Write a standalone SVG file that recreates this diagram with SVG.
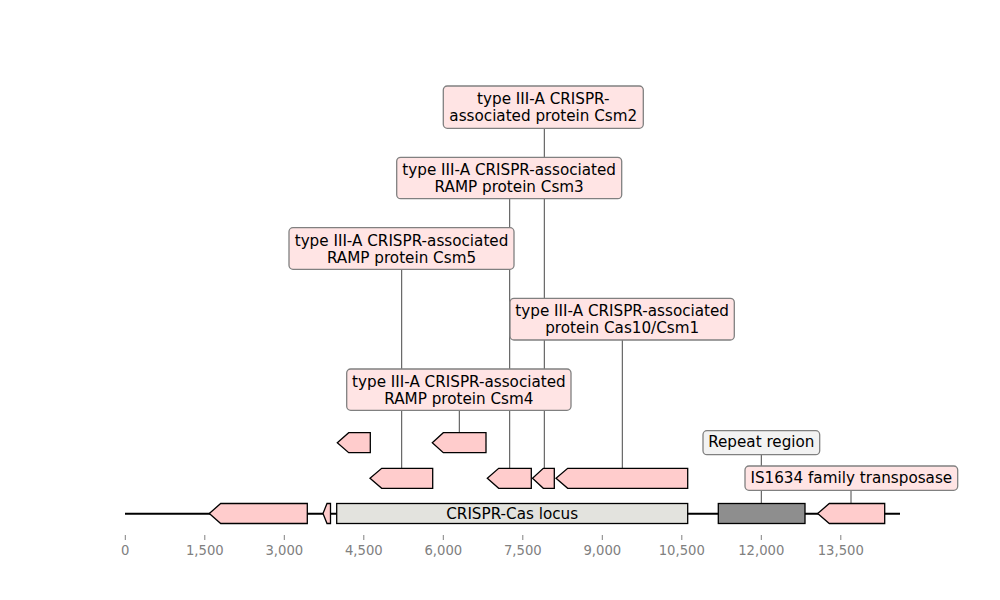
<svg xmlns="http://www.w3.org/2000/svg" width="1000" height="600" viewBox="0 0 1000 600">
<style>
.lbl{font-family:"DejaVu Sans",sans-serif;font-size:15.2px;fill:#000;text-anchor:middle}
.box{fill:#ffe4e4;stroke:#808080;stroke-width:1.3}
.boxg{fill:#f2f2f2;stroke:#808080;stroke-width:1.3}
.feat{fill:#ffcccc;stroke:#000;stroke-width:1.3;stroke-linejoin:miter}
.tick{stroke:#808080;stroke-width:1}
.tl{font-family:"DejaVu Sans",sans-serif;font-size:13.2px;fill:#808080;text-anchor:middle}
.conn{stroke:#333;stroke-width:0.9;fill:none}
</style>
<rect width="1000" height="600" fill="#fff"/>
<g id="axis">
<line class="tick" x1="125.3" y1="535" x2="125.3" y2="540"/><text class="tl" x="125.3" y="555">0</text>
<line class="tick" x1="204.8" y1="535" x2="204.8" y2="540"/><text class="tl" x="204.8" y="555">1,500</text>
<line class="tick" x1="284.3" y1="535" x2="284.3" y2="540"/><text class="tl" x="284.3" y="555">3,000</text>
<line class="tick" x1="363.8" y1="535" x2="363.8" y2="540"/><text class="tl" x="363.8" y="555">4,500</text>
<line class="tick" x1="443.3" y1="535" x2="443.3" y2="540"/><text class="tl" x="443.3" y="555">6,000</text>
<line class="tick" x1="522.8" y1="535" x2="522.8" y2="540"/><text class="tl" x="522.8" y="555">7,500</text>
<line class="tick" x1="602.3" y1="535" x2="602.3" y2="540"/><text class="tl" x="602.3" y="555">9,000</text>
<line class="tick" x1="681.8" y1="535" x2="681.8" y2="540"/><text class="tl" x="681.8" y="555">10,500</text>
<line class="tick" x1="761.3" y1="535" x2="761.3" y2="540"/><text class="tl" x="761.3" y="555">12,000</text>
<line class="tick" x1="840.8" y1="535" x2="840.8" y2="540"/><text class="tl" x="840.8" y="555">13,500</text>
</g>
<g id="connectors">
<line class="conn" x1="544.3" y1="128" x2="544.3" y2="468.5"/>
<line class="conn" x1="509.7" y1="198" x2="509.7" y2="468.5"/>
<line class="conn" x1="401.7" y1="269" x2="401.7" y2="468.5"/>
<line class="conn" x1="622.3" y1="340" x2="622.3" y2="468.5"/>
<line class="conn" x1="459.3" y1="410" x2="459.3" y2="433"/>
<line class="conn" x1="761.3" y1="454" x2="761.3" y2="503.5"/>
<line class="conn" x1="851" y1="490" x2="851" y2="503.5"/>
</g>
<g id="backbone">
<line x1="125" y1="513.8" x2="900" y2="513.8" stroke="#000" stroke-width="2"/>
</g>
<g id="feature-1"><polygon class="feat" points="307.3,503.5 220.7,503.5 209.3,513.5 220.7,523.5 307.3,523.5"/></g>
<g id="feature-2"><polygon class="feat" points="330.5,503.5 327,503.5 323,513.5 327,523.5 330.5,523.5"/></g>
<g id="crispr-locus"><rect x="336.7" y="503.5" width="351" height="20" fill="#e3e3de" stroke="#000" stroke-width="1.3"/><text class="lbl" x="512.2" y="518.5">CRISPR-Cas locus</text></g>
<g id="repeat-feature"><rect x="718.3" y="503.5" width="86.7" height="20" fill="#8e8e8e" stroke="#000" stroke-width="1.3"/></g>
<g id="transposase-feature"><polygon class="feat" points="884.7,503.5 829.3,503.5 817.7,513.5 829.3,523.5 884.7,523.5"/></g>
<g id="csm5-feature"><polygon class="feat" points="432.7,468.3 381.7,468.3 370,478.3 381.7,488.3 432.7,488.3"/></g>
<g id="csm3-feature"><polygon class="feat" points="531.3,468.3 498.7,468.3 487.3,478.3 498.7,488.3 531.3,488.3"/></g>
<g id="csm2-feature"><polygon class="feat" points="554.3,468.3 543.3,468.3 532.5,478.3 543.3,488.3 554.3,488.3"/></g>
<g id="cas10-feature"><polygon class="feat" points="687.7,468.3 567.7,468.3 556,478.3 567.7,488.3 687.7,488.3"/></g>
<g id="small-feature"><polygon class="feat" points="370.3,432.7 348.7,432.7 337.3,442.7 348.7,452.7 370.3,452.7"/></g>
<g id="csm4-feature"><polygon class="feat" points="486,432.7 443.3,432.7 432.3,442.7 443.3,452.7 486,452.7"/></g>
<g id="label-csm2"><rect class="box" x="443.3" y="86" width="200" height="42.3" rx="4"/><text class="lbl" x="543.3" y="104">type III-A CRISPR-</text><text class="lbl" x="543.3" y="121">associated protein Csm2</text></g>
<g id="label-csm3"><rect class="box" x="396.7" y="157.3" width="225" height="41.4" rx="4"/><text class="lbl" x="509.2" y="175">type III-A CRISPR-associated</text><text class="lbl" x="509.2" y="192">RAMP protein Csm3</text></g>
<g id="label-csm5"><rect class="box" x="289" y="227.7" width="225" height="41.6" rx="4"/><text class="lbl" x="401.5" y="245.5">type III-A CRISPR-associated</text><text class="lbl" x="401.5" y="262.5">RAMP protein Csm5</text></g>
<g id="label-cas10"><rect class="box" x="510" y="298.3" width="224.3" height="41.7" rx="4"/><text class="lbl" x="622.2" y="316">type III-A CRISPR-associated</text><text class="lbl" x="622.2" y="333">protein Cas10/Csm1</text></g>
<g id="label-csm4"><rect class="box" x="346.7" y="369" width="224.3" height="41.3" rx="4"/><text class="lbl" x="458.9" y="386.8">type III-A CRISPR-associated</text><text class="lbl" x="458.9" y="403.8">RAMP protein Csm4</text></g>
<g id="label-repeat"><rect class="boxg" x="703" y="430.7" width="116.7" height="24" rx="4"/><text class="lbl" x="761.3" y="447.2">Repeat region</text></g>
<g id="label-is1634"><rect class="box" x="745" y="466" width="212.7" height="24.3" rx="4"/><text class="lbl" x="851.3" y="482.8">IS1634 family transposase</text></g>
</svg>
